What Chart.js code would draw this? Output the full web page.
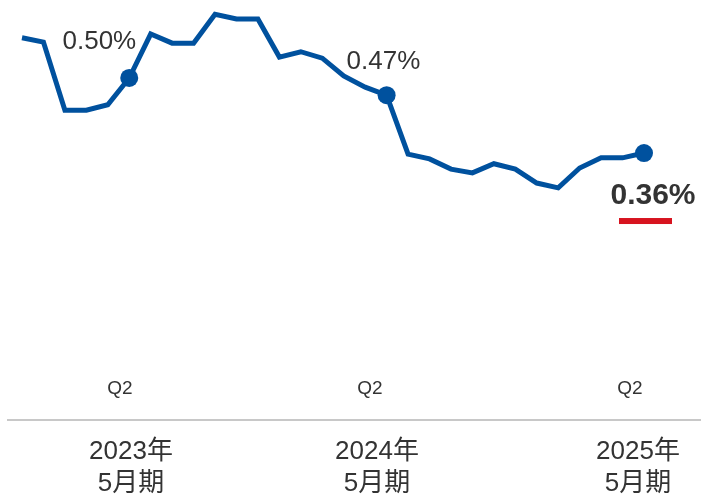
<!DOCTYPE html>
<html>
<head>
<meta charset="utf-8">
<script src="https://cdn.jsdelivr.net/npm/chart.js@4/dist/chart.umd.min.js"></script>
<style>
  html, body { margin: 0; padding: 0; background: #fff; }
  #wrap { width: 701px; height: 495px; position: relative; }
</style>
</head>
<body>
<div id="wrap"><canvas id="chart_ratio"></canvas></div>
<script>
// monthly ratio (%)
const months = [
  'm01','m02','m03','m04','m05','m06','m07','m08','m09','m10',
  'm11','m12','m13','m14','m15','m16','m17','m18','m19','m20',
  'm21','m22','m23','m24','m25','m26','m27','m28','m29','m30'
]
const ratio = [
  0.575, 0.567, 0.440, 0.440, 0.450, 0.500, 0.582, 0.565, 0.565, 0.619,
  0.610, 0.610, 0.539, 0.549, 0.537, 0.504, 0.483, 0.468, 0.358, 0.349,
  0.330, 0.323, 0.340, 0.330, 0.304, 0.295, 0.332, 0.351, 0.351, 0.360
]
// highlighted points (index into months) and their labels
const markIdx = [5, 17, 29]
const markText = ['0.50%', '0.47%', '0.36%']
// period labels, placed along the month axis
const quarterLabels = ['Q2', 'Q2', 'Q2']
const quarterAt = [4.57, 16.22, 28.34]
const yearLabels = ['2023年', '2024年', '2025年']
const termLabels = ['5月期', '5月期', '5月期']
const yearAt = [5.08, 16.55, 28.72]

const BLUE = '#00519e'
const TEXT = '#333333'
const FONT = '"Liberation Sans", Arial, "Noto Sans CJK JP", sans-serif'

// draws the value labels, the axis line and the period labels
const labelsPlugin = {
  id: 'labels',
  afterDatasetsDraw(chart) {
    const ctx = chart.ctx
    const xs = chart.scales.x
    const ys = chart.scales.y
    const pts = markIdx.map(i => ({ x: xs.getPixelForValue(i), y: ys.getPixelForValue(ratio[i]) }))

    ctx.save()
    ctx.fillStyle = TEXT
    ctx.textBaseline = 'middle'

    // value labels
    ctx.font = '26px ' + FONT
    ctx.textAlign = 'right'
    ctx.fillText(markText[0], pts[0].x + 7, pts[0].y - 36)
    ctx.textAlign = 'left'
    ctx.fillText(markText[1], pts[1].x - 40, pts[1].y - 33)

    ctx.font = 'bold 30px ' + FONT
    ctx.textAlign = 'center'
    ctx.fillText(markText[2], pts[2].x + 9, pts[2].y + 43)
    ctx.fillStyle = '#d7131f'
    ctx.fillRect(pts[2].x - 25, pts[2].y + 65, 53, 6)

    // axis line
    ctx.strokeStyle = '#c8c8c8'
    ctx.lineWidth = 2
    ctx.beginPath()
    ctx.moveTo(7, 420)
    ctx.lineTo(701, 420)
    ctx.stroke()

    // period labels
    ctx.fillStyle = TEXT
    ctx.textAlign = 'center'
    ctx.font = '19px ' + FONT
    quarterLabels.forEach((t, k) => ctx.fillText(t, xs.getPixelForValue(quarterAt[k]), 389))
    ctx.font = '26px ' + FONT
    yearLabels.forEach((t, k) => {
      const x = xs.getPixelForValue(yearAt[k])
      ctx.fillText(t, x, 452)
      ctx.fillText(termLabels[k], x, 484)
    })
    ctx.restore()
  }
}

const config = {
  type: 'line',
  data: {
    labels: months,
    datasets: [{
      data: ratio.map((v, i) => ({ x: i, y: v })),
      borderColor: BLUE,
      borderWidth: 5,
      backgroundColor: BLUE,
      tension: 0,
      borderJoinStyle: 'miter',
      pointRadius: ratio.map((v, i) => markIdx.includes(i) ? 9 : 0),
      pointHoverRadius: 0,
      pointBorderWidth: 0,
      clip: false
    }]
  },
  options: {
    responsive: false,
    animation: false,
    devicePixelRatio: 1,
    layout: { autoPadding: false, padding: { top: 0, bottom: 75, left: 22, right: 57 } },
    plugins: { legend: { display: false }, tooltip: { enabled: false } },
    scales: {
      // linear x axis on the month index
      x: { type: 'linear', display: false, offset: false, min: 0, max: months.length - 1 },
      y: { display: false, min: -0.1381, max: 0.6455 }
    }
  },
  plugins: [labelsPlugin]
}

const canvas = document.getElementById('chart_ratio')
canvas.width = 701
canvas.height = 495
new Chart(canvas.getContext('2d'), config)
</script>
</body>
</html>
